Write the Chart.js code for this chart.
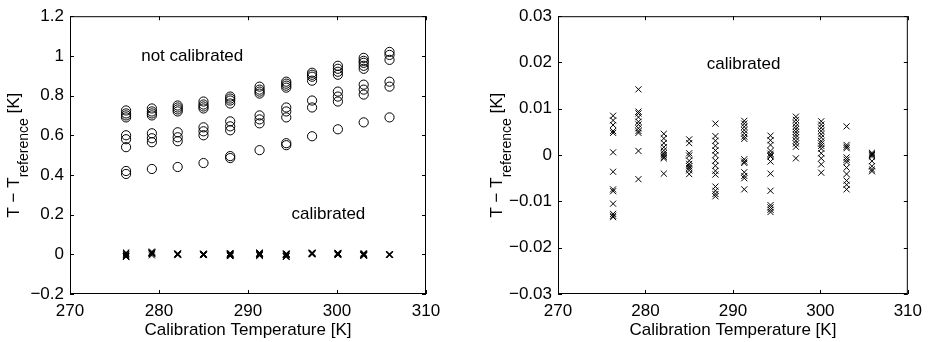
<!DOCTYPE html>
<html lang="en">
<head>
    <meta charset="UTF-8">
    <title>Sensor calibration</title>
    <style>
        body { margin: 0; background: #fff; }
        .wrap { position: relative; width: 929px; height: 342px; }
        canvas { position: absolute; top: 0; }
        #leftChart { left: 0; }
        #rightChart { left: 464px; }
    </style>
    <script src="https://cdn.jsdelivr.net/npm/chart.js"></script>
</head>
<body>
    <div class="wrap">
        <canvas id="leftChart" width="464" height="342"></canvas>
        <canvas id="rightChart" width="465" height="342"></canvas>
    </div>

    <script>
        // Calibration temperatures [K] (one column of sensors each)
        const temps = [276.3, 279.2, 282.1, 285.0, 288.0, 291.3, 294.3, 297.2, 300.1, 303.0, 305.9];

        // T - T_reference before calibration, one list per temperature
        const notCalibrated = [
            [0.725, 0.71, 0.70, 0.69, 0.60, 0.58, 0.54, 0.42, 0.405],
            [0.735, 0.72, 0.71, 0.70, 0.61, 0.585, 0.565, 0.43],
            [0.75, 0.74, 0.73, 0.72, 0.615, 0.59, 0.57, 0.44],
            [0.77, 0.755, 0.745, 0.735, 0.64, 0.62, 0.60, 0.46],
            [0.795, 0.785, 0.775, 0.76, 0.67, 0.645, 0.625, 0.495, 0.485],
            [0.845, 0.83, 0.82, 0.81, 0.70, 0.68, 0.66, 0.525],
            [0.87, 0.86, 0.85, 0.84, 0.74, 0.72, 0.69, 0.56, 0.55],
            [0.915, 0.905, 0.895, 0.875, 0.775, 0.74, 0.595],
            [0.95, 0.935, 0.92, 0.905, 0.82, 0.795, 0.77, 0.63],
            [0.99, 0.975, 0.965, 0.95, 0.935, 0.855, 0.83, 0.805, 0.665],
            [1.02, 1.005, 0.98, 0.87, 0.845, 0.69]
        ];

        // T - T_reference after calibration
        const calibrated = [
            [0.0085, 0.0075, 0.0065, 0.0052, 0.0048, 0.0006, -0.0036, -0.0074, -0.0078, -0.0105, -0.0127, -0.0131, -0.0134],
            [0.0142, 0.0094, 0.009, 0.0082, 0.0072, 0.0066, 0.0058, 0.0052, 0.0048, 0.0009, -0.0052],
            [0.0046, 0.0036, 0.0026, 0.0017, 0.001, 0.0004, 0.0, -0.0004, -0.0007, -0.004],
            [0.0034, 0.0026, 0.0004, -0.0001, -0.0012, -0.0019, -0.0024, -0.0028, -0.0033, -0.0041],
            [0.0068, 0.0041, 0.0031, 0.002, 0.001, 0.0, -0.0012, -0.0023, -0.0034, -0.0042, -0.0068, -0.0077, -0.0084, -0.0089],
            [0.0074, 0.0068, 0.0061, 0.0054, 0.0047, 0.004, 0.0035, -0.0009, -0.0014, -0.0017, -0.0037, -0.0045, -0.005, -0.0074],
            [0.0042, 0.0032, 0.0022, 0.0009, 0.0003, 0.0, -0.0003, -0.0014, -0.004, -0.0077, -0.0108, -0.0113, -0.0118, -0.0123],
            [0.0083, 0.0076, 0.0069, 0.0062, 0.0056, 0.005, 0.0044, 0.0038, 0.0031, 0.0025, 0.0018, -0.0007],
            [0.0073, 0.0066, 0.0059, 0.0052, 0.0045, 0.0038, 0.003, 0.0025, 0.002, 0.0014, 0.0004, -0.0007, -0.002, -0.0038],
            [0.0062, 0.0022, 0.0018, 0.0015, -0.0005, -0.001, -0.0015, -0.0027, -0.0041, -0.0055, -0.0064, -0.0074],
            [0.0005, 0.0002, 0.0, -0.0003, -0.0013, -0.0024, -0.0031, -0.0035]
        ];

        // Tick values and labels
        const xTicks = [270, 280, 290, 300, 310];
        const xTickLabels = ['270', '280', '290', '300', '310'];
        const leftYTicks = [-0.2, 0, 0.2, 0.4, 0.6, 0.8, 1, 1.2];
        const leftYTickLabels = ['\u22120.2', '0', '0.2', '0.4', '0.6', '0.8', '1', '1.2'];
        const rightYTicks = [-0.03, -0.02, -0.01, 0, 0.01, 0.02, 0.03];
        const rightYTickLabels = ['\u22120.03', '\u22120.02', '\u22120.01', '0', '0.01', '0.02', '0.03'];

        const FONT = { family: "'Liberation Sans', Arial, sans-serif", size: 17 };

        function toPoints(columns) {
            const pts = [];
            columns.forEach((col, i) => col.forEach(v => pts.push({ x: temps[i], y: v })));
            return pts;
        }

        // box around the axes with inward ticks on all four sides (MATLAB look)
        const frame = {
            id: 'frame',
            afterDraw(chart) {
                const { ctx, chartArea: a, scales: { x, y } } = chart;
                const len = 4;
                ctx.save();
                ctx.strokeStyle = '#000';
                ctx.lineWidth = 1;
                ctx.strokeRect(a.left + 0.5, a.top + 0.5, a.right - a.left - 1, a.bottom - a.top - 1);
                ctx.beginPath();
                x.ticks.forEach(t => {
                    const px = Math.round(x.getPixelForValue(t.value)) + 0.5;
                    ctx.moveTo(px, a.bottom); ctx.lineTo(px, a.bottom - len);
                    ctx.moveTo(px, a.top); ctx.lineTo(px, a.top + len);
                });
                y.ticks.forEach(t => {
                    const py = Math.round(y.getPixelForValue(t.value)) + 0.5;
                    ctx.moveTo(a.left, py); ctx.lineTo(a.left + len, py);
                    ctx.moveTo(a.right, py); ctx.lineTo(a.right - len, py);
                });
                ctx.stroke();
                ctx.restore();
            }
        };

        // text notes inside the plot and the y title with its subscript
        const labels = {
            id: 'labels',
            afterDraw(chart, args, opts) {
                const { ctx, chartArea: a, scales: { x, y } } = chart;
                ctx.save();
                ctx.fillStyle = '#000';
                ctx.font = `${FONT.size}px ${FONT.family}`;
                ctx.textAlign = 'left';
                ctx.textBaseline = 'middle';
                (opts.notes || []).forEach(n => {
                    ctx.fillText(n.text, x.getPixelForValue(n.x), y.getPixelForValue(n.y));
                });

                // rotated y title: "T − T" + subscript "reference" + " [K]"
                const main1 = 'T \u2212 T', sub = 'reference', main2 = ' [K]';
                const subFont = `14px ${FONT.family}`;
                const mainFont = ctx.font;
                const w1 = ctx.measureText(main1).width;
                const w3 = ctx.measureText(main2).width;
                ctx.font = subFont;
                const w2 = ctx.measureText(sub).width;
                const total = w1 + w2 + w3;
                ctx.translate(opts.titleX, (a.top + a.bottom) / 2);
                ctx.rotate(-Math.PI / 2);
                ctx.textBaseline = 'alphabetic';
                let cx = -total / 2;
                ctx.font = mainFont;
                ctx.fillText(main1, cx, 0);
                cx += w1;
                ctx.font = subFont;
                ctx.fillText(sub, cx, 9);
                cx += w2;
                ctx.font = mainFont;
                ctx.fillText(main2, cx, 0);
                ctx.restore();
            }
        };

        function makeChart(id, opts) {
            const ctx = document.getElementById(id).getContext('2d');
            return new Chart(ctx, {
                type: 'scatter',
                data: { datasets: opts.datasets },
                options: {
                    responsive: false,
                    animation: false,
                    layout: { padding: { top: 14, right: opts.padRight, left: 0, bottom: 0 } },
                    plugins: {
                        legend: { display: false },
                        tooltip: { enabled: false },
                        labels: { notes: opts.notes, titleX: opts.titleX }
                    },
                    scales: {
                        x: {
                            type: 'linear',
                            min: 270,
                            max: 310,
                            afterBuildTicks: s => { s.ticks = xTicks.map(v => ({ value: v })); },
                            afterFit: s => { s.height = 48; },
                            grid: { display: false, drawTicks: false },
                            border: { display: false },
                            ticks: {
                                color: '#000', font: FONT, padding: 7, maxRotation: 0, autoSkip: false,
                                callback: (v, i) => xTickLabels[i]
                            },
                            title: {
                                display: true, text: 'Calibration Temperature [K]', color: '#000', font: FONT,
                                padding: { top: 0, bottom: 1 }
                            }
                        },
                        y: {
                            type: 'linear',
                            min: opts.yTicks[0],
                            max: opts.yTicks[opts.yTicks.length - 1],
                            afterBuildTicks: s => { s.ticks = opts.yTicks.map(v => ({ value: v })); },
                            afterFit: s => { s.width = opts.yWidth; },
                            grid: { display: false, drawTicks: false },
                            border: { display: false },
                            ticks: {
                                color: '#000', font: FONT, padding: 6, autoSkip: false,
                                callback: (v, i) => opts.yTickLabels[i]
                            }
                        }
                    }
                },
                plugins: [frame, labels]
            });
        }

        const circleStyle = {
            pointStyle: 'circle', pointRadius: 4.6, pointBorderWidth: 1,
            pointBackgroundColor: 'rgba(0,0,0,0)', pointBorderColor: '#000'
        };
        const crossStyle = {
            pointStyle: 'crossRot', pointRadius: 4.3, pointBorderWidth: 1,
            pointBorderColor: '#000', pointBackgroundColor: '#000'
        };

        makeChart('leftChart', {
            datasets: [
                Object.assign({ label: 'not calibrated', data: toPoints(notCalibrated) }, circleStyle),
                Object.assign({ label: 'calibrated', data: toPoints(calibrated) }, crossStyle)
            ],
            yTicks: leftYTicks,
            yTickLabels: leftYTickLabels,
            yWidth: 70,
            padRight: 38,
            titleX: 19,
            notes: [
                { text: 'not calibrated', x: 278, y: 1.0 },
                { text: 'calibrated', x: 294.9, y: 0.2 }
            ]
        });

        makeChart('rightChart', {
            datasets: [
                Object.assign({ label: 'calibrated', data: toPoints(calibrated) }, crossStyle)
            ],
            yTicks: rightYTicks,
            yTickLabels: rightYTickLabels,
            yWidth: 94,
            padRight: 16,
            titleX: 38,
            notes: [
                { text: 'calibrated', x: 287.0, y: 0.0197 }
            ]
        });
    </script>
</body>
</html>
